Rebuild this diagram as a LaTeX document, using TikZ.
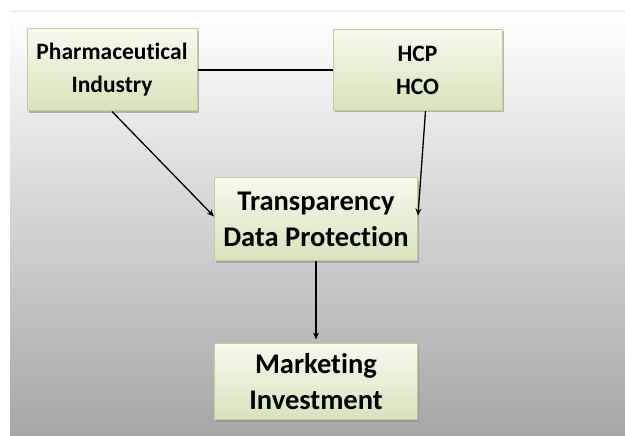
\documentclass[tikz,border=0pt]{standalone}
\usepackage{fontspec}
\setmainfont[Ligatures=NoCommon]{Carlito}
\usetikzlibrary{arrows.meta,shadows}
\definecolor{bgbot}{RGB}{166,166,166}
\definecolor{boxtop}{RGB}{246,249,238}
\definecolor{boxbot}{RGB}{214,227,186}
\definecolor{boxline}{RGB}{190,208,150}
\tikzset{
  box/.style={draw=boxline, line width=1pt, top color=boxtop, bottom color=boxbot,
    align=center, font=\fontsize{23.5}{33}\selectfont\bfseries, inner sep=0pt,
    drop shadow={shadow xshift=1.6pt, shadow yshift=-1.6pt, fill=black!45, opacity=0.6}},
  bigbox/.style={box, font=\fontsize{28.5}{36}\selectfont\bfseries},
  conn/.style={line width=1.3pt, black},
  arr/.style={conn, -{Stealth[length=7pt,width=6pt]}}
}
\begin{document}
\begin{tikzpicture}[x=1pt,y=1pt]
\useasboundingbox (0,0) rectangle (625,436);
\fill[white] (0,0) rectangle (625,436);
\shade[top color=white, bottom color=bgbot] (10,0) rectangle (625,424);
\draw[black!12, line width=1pt] (10,424.5) -- (625,424.5);
\node[box, minimum width=170pt, minimum height=82pt] (pi) at (112,366) {Pharmaceutical\\Industry};
\node[box, minimum width=169pt, minimum height=81pt] (hcp) at (417.5,366) {HCP\\HCO};
\node[bigbox, minimum width=203pt, minimum height=83pt] (tdp) at (316,216.5) {Transparency\\Data Protection};
\node[bigbox, minimum width=203pt, minimum height=76pt] (mi) at (316,54) {Marketing\\Investment};
\draw[conn] (pi.east) -- (hcp.west);
\draw[arr] (pi.south) -- ([yshift=3pt]tdp.west);
\draw[arr] ([xshift=8pt]hcp.south) -- ([yshift=4pt]tdp.east);
\draw[arr] (tdp.south) -- ([yshift=4pt]mi.north);
\end{tikzpicture}
\end{document}
